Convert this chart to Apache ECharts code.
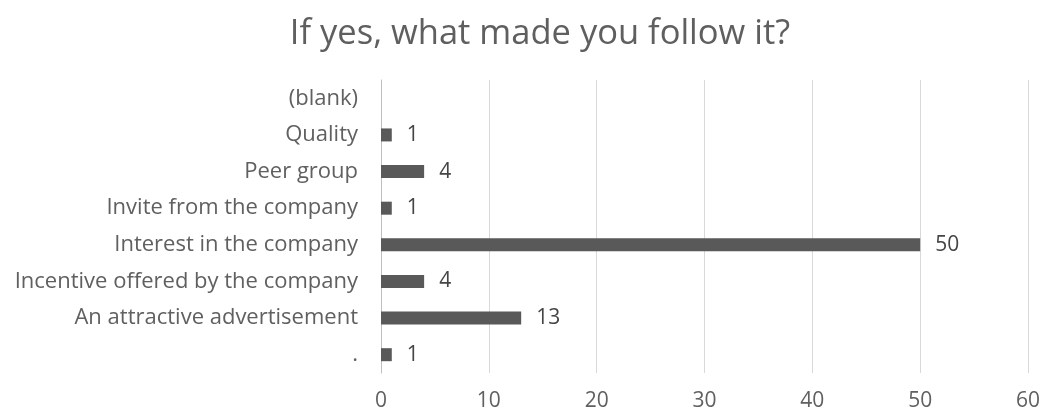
<!DOCTYPE html>
<html><head><meta charset="utf-8">
<script src="https://cdn.jsdelivr.net/npm/echarts@6/dist/echarts.min.js"></script>
<style>html,body{margin:0;padding:0;background:#fff}#c{width:1044px;height:412px}</style>
</head><body><div id="c"></div>
<script>
const categories = [".", "An attractive advertisement", "Incentive offered by the company", "Interest in the company", "Invite from the company", "Peer group", "Quality", "(blank)"];
const values = [1, 13, 4, 50, 1, 4, 1, null];
const xTicks = [0, 10, 20, 30, 40, 50, 60];
const title = "If yes, what made you follow it?";

const chart = echarts.init(document.getElementById('c'), null, {renderer: 'canvas'});
chart.setOption({
  animation: false,
  title: {text: title, left: 535, textAlign: 'center', top: 12,
    textStyle: {fontFamily: 'Open Sans', fontSize: 34.5, fontWeight: 'normal', color: '#5f5f5f'}},
  grid: {left: 381, right: 16, top: 80, bottom: 39, containLabel: false},
  xAxis: {type: 'value', min: xTicks[0], max: xTicks[xTicks.length-1], interval: 10,
    axisLine: {show: false}, axisTick: {show: false},
    splitLine: {lineStyle: {color: '#d9d9d9', width: 1}},
    axisLabel: {color: '#606060', fontFamily: 'Open Sans', fontSize: 21, margin: 18}},
  yAxis: {type: 'category', data: categories,
    axisLine: {lineStyle: {color: '#bfbfbf'}}, axisTick: {show: false},
    axisLabel: {color: '#606060', fontFamily: 'Open Sans', fontSize: 22, margin: 23}},
  series: [{type: 'bar', data: values, barWidth: 13,
    itemStyle: {color: '#595959'},
    label: {show: true, position: 'right', distance: 15, color: '#454545', fontFamily: 'Open Sans', fontSize: 21}}]
});
</script></body></html>
